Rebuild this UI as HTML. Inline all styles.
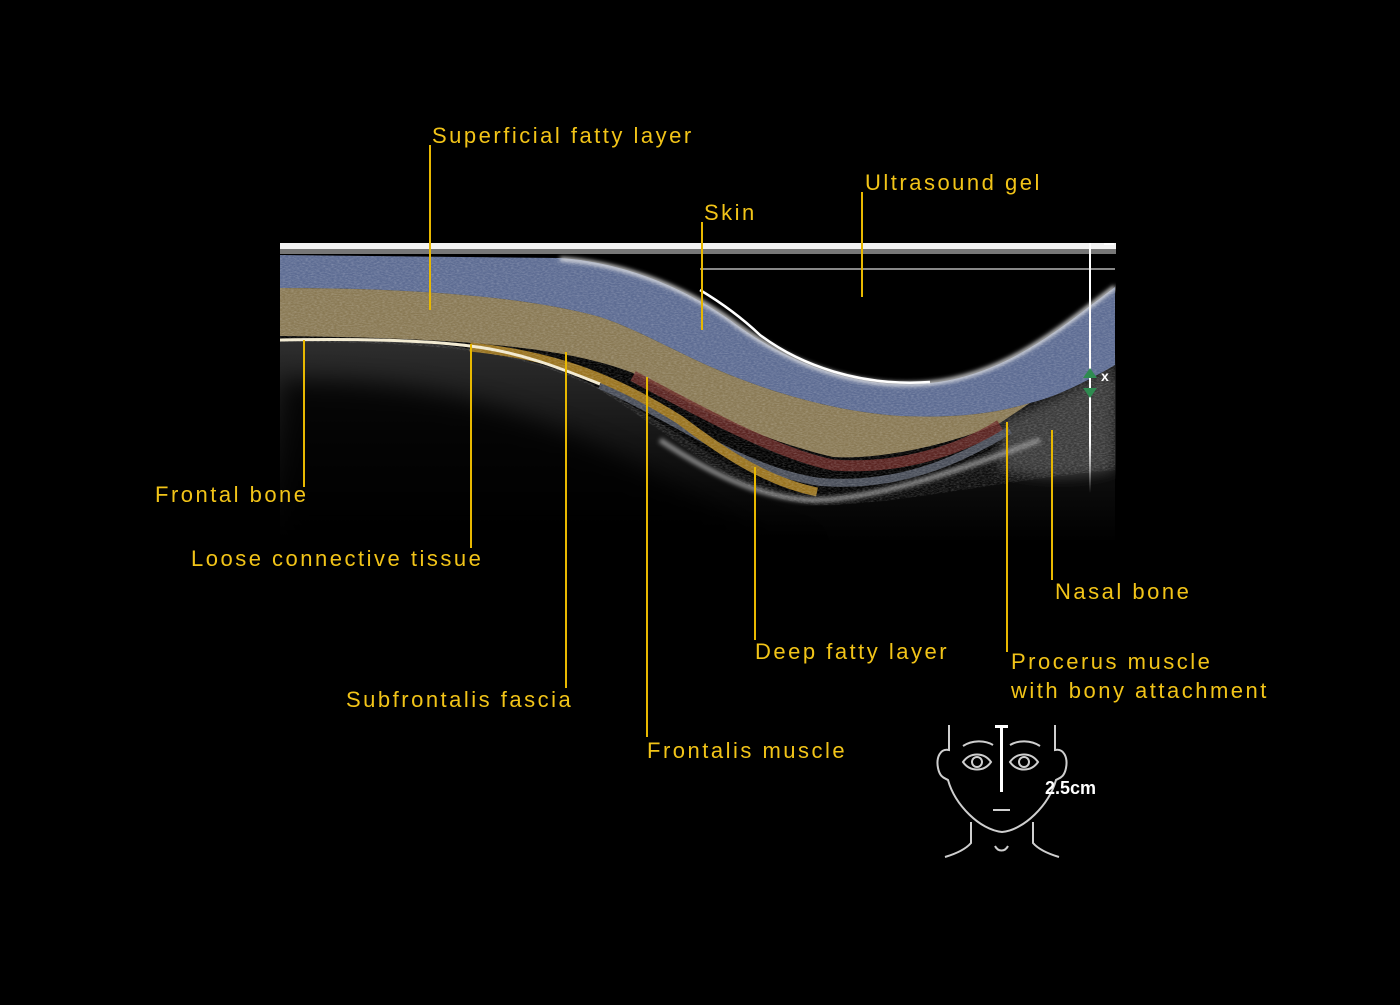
<!DOCTYPE html>
<html><head><meta charset="utf-8"><style>
html,body{margin:0;padding:0;background:#000;}
body{width:1400px;height:1000px;overflow:hidden;}
svg text{font-family:"Liberation Sans",sans-serif;}
</style></head><body>
<svg width="1400" height="1000" viewBox="0 0 1400 1000" xmlns="http://www.w3.org/2000/svg">
<defs>
<filter id="b2"><feGaussianBlur stdDeviation="2"/></filter>
<filter id="b6"><feGaussianBlur stdDeviation="6"/></filter>
<filter id="b12" x="-20%" y="-20%" width="140%" height="140%"><feGaussianBlur stdDeviation="12"/></filter>
<filter id="noise" x="0" y="0" width="100%" height="100%">
<feTurbulence type="fractalNoise" baseFrequency="0.35 0.9" numOctaves="2" seed="3"/>
<feColorMatrix type="matrix" values="0 0 0 0 1  0 0 0 0 1  0 0 0 0 1  0 0 0 1.3 -0.45"/>
</filter>
<clipPath id="img"><rect x="280" y="243" width="836" height="300"/></clipPath>
<clipPath id="tissue"><path d="M280,255 L560,258 C620,262 680,285 730,320 C790,365 860,390 930,383 C1010,375 1070,320 1115,287 L1115,470 C1000,480 900,505 817,505 C740,500 680,440 600,390 C520,350 440,342 280,342 Z"/></clipPath>
<linearGradient id="fade" x1="0" y1="0" x2="0" y2="1">
<stop offset="0" stop-color="#fff"/><stop offset="0.8" stop-color="#fff"/><stop offset="1" stop-color="#fff" stop-opacity="0"/>
</linearGradient>
<linearGradient id="echo" x1="0" y1="0" x2="0" y2="1">
<stop offset="0" stop-color="#3a3a3a"/><stop offset="0.5" stop-color="#1a1a1a"/><stop offset="1" stop-color="#000"/>
</linearGradient>
</defs>
<rect width="1400" height="1000" fill="#000"/>
<g clip-path="url(#img)">
<!-- deep grey echo region -->
<path d="M280,340 C400,338 470,342 560,370 C660,410 740,490 817,498 C900,500 980,460 1115,380 L1115,543 L280,543 Z" fill="url(#echo)" opacity="0.8"/>
<path d="M280,380 C400,380 470,395 560,430 C660,470 740,530 817,545 L280,545 Z" fill="#000" filter="url(#b12)" opacity="0.8"/>
<path d="M1000,420 C1050,400 1090,380 1115,360 L1115,470 C1080,480 1040,480 1000,470 Z" fill="#3a3a3a" filter="url(#b6)"/>
<!-- blue superficial fatty layer -->
<path d="M280,255 L560,258 C620,262 680,285 730,320 C790,365 860,390 930,383 C1010,375 1070,320 1115,287 L1115,365 C1080,385 1055,397 1030,403 C990,415 950,418 900,416 C840,412 780,395 730,375 C680,355 640,330 600,317 C520,295 400,288 280,288 Z" fill="#5d6c93"/>
<!-- yellow fatty layer -->
<path d="M280,288 C400,288 520,295 600,317 C640,330 680,355 730,375 C780,395 840,412 900,416 C950,418 990,415 1030,403 L1000,423 C950,445 880,460 833,457 C760,440 700,410 633,373 C560,345 450,338 280,336 Z" fill="#8a7a55"/>
<!-- grey between -->
<path d="M600,385 C680,420 740,470 820,482 C900,488 960,460 1010,430" stroke="#4a4f5a" stroke-width="8" fill="none"/>
<!-- red frontalis -->
<path d="M633,376 C700,412 780,455 833,465 C900,470 960,450 1000,425" stroke="#6b2c28" stroke-width="11" fill="none" opacity="0.85"/>
<!-- deep yellow band -->
<path d="M470,347 C560,356 620,382 680,420 C730,458 770,482 817,492" stroke="#9a7420" stroke-width="9" fill="none"/>
<!-- bottom tissue edge -->
<path d="M660,440 C720,480 770,500 817,500 C880,498 960,470 1040,440" stroke="#8a8a8a" stroke-width="5" fill="none" filter="url(#b2)"/>
<!-- bone line -->
<path d="M280,340 C380,338 440,342 470,346 C520,352 560,368 600,384" stroke="#f2ead0" stroke-width="3" fill="none"/>
<!-- noise texture over tissue -->
<g clip-path="url(#tissue)"><rect x="280" y="250" width="836" height="260" filter="url(#noise)" opacity="0.3"/></g>
<!-- skin bright line -->
<path d="M560,259 C620,263 680,285 730,320 C790,365 860,390 930,383 C1010,375 1070,320 1115,287" stroke="#e8e8e8" stroke-width="4" fill="none" filter="url(#b2)"/>
<path d="M700,290 C720,302 740,316 760,335 C800,365 860,387 930,382" stroke="#fff" stroke-width="2.5" fill="none"/>
<!-- top transducer line -->
<rect x="280" y="243" width="836" height="6" fill="#f2f2f2"/>
<rect x="280" y="249" width="836" height="5" fill="#777"/>
<rect x="700" y="268" width="415" height="2" fill="#888"/>
</g>
<!-- scale bar -->
<rect x="1089" y="243" width="2" height="250" fill="url(#fade)"/>
<rect x="1104" y="243" width="10" height="2" fill="#fff"/>
<polygon points="1090,368 1083,378 1097,378" fill="#2e8b50"/>
<polygon points="1090,398 1083,388 1097,388" fill="#2e8b50"/>
<text x="1101" y="381" fill="#fff" font-size="14" font-weight="bold">x</text>
<!-- leader lines -->
<g stroke="#e8b800" stroke-width="2" fill="none">
<line x1="430" y1="145" x2="430" y2="310"/>
<line x1="702" y1="222" x2="702" y2="330"/>
<line x1="862" y1="192" x2="862" y2="297"/>
<line x1="304" y1="340" x2="304" y2="487"/>
<line x1="471" y1="344" x2="471" y2="548"/>
<line x1="566" y1="352" x2="566" y2="688"/>
<line x1="647" y1="377" x2="647" y2="737"/>
<line x1="755" y1="467" x2="755" y2="640"/>
<line x1="1007" y1="422" x2="1007" y2="652"/>
<line x1="1052" y1="430" x2="1052" y2="580"/>
</g>
<g fill="#f2c418" font-size="22" letter-spacing="2.5">
<text x="432" y="143">Superficial fatty layer</text>
<text x="704" y="220">Skin</text>
<text x="865" y="190">Ultrasound gel</text>
<text x="155" y="502">Frontal bone</text>
<text x="191" y="566">Loose connective tissue</text>
<text x="346" y="707">Subfrontalis fascia</text>
<text x="647" y="758">Frontalis muscle</text>
<text x="755" y="659">Deep fatty layer</text>
<text x="1011" y="669">Procerus muscle</text>
<text x="1011" y="698">with bony attachment</text>
<text x="1055" y="599">Nasal bone</text>
</g>
<!-- face icon -->
<g stroke="#cfcfcf" stroke-width="2" fill="none">
<path d="M949,725 L949,750 C940,748 936,758 938,768 C940,778 945,778 948,780 C955,805 980,830 1002,832 C1024,830 1049,805 1056,780 C1059,778 1064,778 1066,768 C1068,758 1064,748 1055,750 L1055,725"/>
<path d="M963,746 C972,740 985,740 993,745"/>
<path d="M1010,745 C1018,740 1031,740 1040,746"/>
<path d="M963,762 C970,752 984,752 991,762 C984,772 970,772 963,762 Z"/>
<circle cx="977" cy="762" r="5"/>
<path d="M1010,762 C1017,752 1031,752 1038,762 C1031,772 1017,772 1010,762 Z"/>
<circle cx="1024" cy="762" r="5"/>
<line x1="993" y1="810" x2="1010" y2="810"/>
<path d="M971,822 L971,843 C965,850 955,854 945,857"/>
<path d="M1033,822 L1033,843 C1039,850 1049,854 1059,857"/>
<path d="M995,846 C998,852 1005,852 1008,846"/>
</g>
<rect x="1000" y="726" width="3" height="66" fill="#fff"/>
<rect x="995" y="725" width="13" height="3" fill="#fff"/>
<text x="1045" y="794" fill="#fff" font-size="18" font-weight="bold">2.5cm</text>
</svg>
</body></html>
